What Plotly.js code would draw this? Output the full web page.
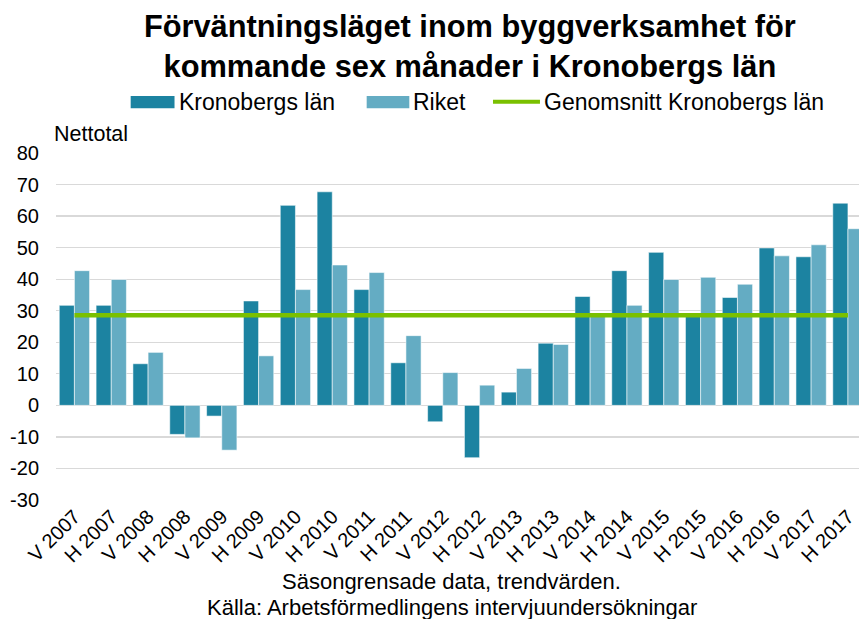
<!DOCTYPE html>
<html>
<head>
<meta charset="utf-8">
<script src="https://cdn.plot.ly/plotly-3.0.1.min.js"></script>
<style>html,body{margin:0;padding:0;background:#fff;}#chart{width:859px;height:619px;}</style>
</head>
<body>
<div id="chart"></div>
<script>
const categories = ["V 2007","H 2007","V 2008","H 2008","V 2009","H 2009","V 2010","H 2010","V 2011","H 2011","V 2012","H 2012","V 2013","H 2013","V 2014","H 2014","V 2015","H 2015","V 2016","H 2016","V 2017","H 2017"];
const kronoberg = [31.7, 31.7, 13.2, -9.2, -3.4, 33.1, 63.4, 67.7, 36.7, 13.5, -5.2, -16.6, 4.2, 19.7, 34.5, 42.7, 48.5, 28.6, 34.2, 49.9, 47.1, 64.1];
const riket = [42.7, 39.9, 16.8, -10.3, -14.2, 15.7, 36.7, 44.5, 42.1, 22.1, 10.4, 6.4, 11.7, 19.3, 28.8, 31.7, 39.9, 40.6, 38.4, 47.4, 50.9, 56.0];
const genomsnitt = 28.6;
const yTicks = [-30, -20, -10, 0, 10, 20, 30, 40, 50, 60, 70, 80];
const seriesNames = ["Kronobergs län", "Riket", "Genomsnitt Kronobergs län"];

const FONT = "Liberation Sans, Arial, sans-serif";
const C_KRON = "#1C83A1", C_RIKET = "#64ACC3", C_AVG = "#7AC000";

const data = [
  {type: "bar", name: seriesNames[0], x: categories, y: kronoberg, showlegend: false,
   marker: {color: C_KRON, line: {color: "rgba(255,255,255,0.55)", width: 1}}},
  {type: "bar", name: seriesNames[1], x: categories, y: riket, showlegend: false,
   marker: {color: C_RIKET, line: {color: "rgba(255,255,255,0.55)", width: 1}}},
  {type: "scatter", mode: "lines", name: seriesNames[2], showlegend: false,
   x: [categories[0], categories[categories.length - 1]], y: [genomsnitt, genomsnitt],
   line: {color: C_AVG, width: 4.5}}
];

// legend drawn in paper coordinates
const legY = 1.147;
const legendShapes = [
  {type: "rect", xref: "paper", yref: "paper", x0: 0.0930, x1: 0.1476, y0: 1.1288, y1: 1.1643,
   fillcolor: C_KRON, line: {width: 0}},
  {type: "rect", xref: "paper", yref: "paper", x0: 0.3869, x1: 0.4400, y0: 1.1288, y1: 1.1643,
   fillcolor: C_RIKET, line: {width: 0}},
  {type: "line", xref: "paper", yref: "paper", x0: 0.5442, x1: 0.6027, y0: 1.1478, y1: 1.1478,
   line: {color: C_AVG, width: 4}}
];
const legendTexts = [[0.1510, seriesNames[0]], [0.4425, seriesNames[1]], [0.6055, seriesNames[2]]].map(([x, t]) => ({
  text: t, xref: "paper", yref: "paper", x: x, y: legY, xanchor: "left", yanchor: "middle",
  showarrow: false, font: {family: FONT, size: 23, color: "#000"}
}));

const layout = {
  width: 859, height: 619,
  margin: {l: 56, r: 0, t: 153, b: 119},
  paper_bgcolor: "#fff", plot_bgcolor: "#fff",
  font: {family: FONT, color: "#000", size: 19},
  title: {text: "<b>Förväntningsläget inom byggverksamhet för<br>kommande sex månader i Kronobergs län</b>",
          font: {family: FONT, size: 30.8, color: "#000"},
          x: 0.547, xanchor: "center", xref: "container",
          y: 0.941, yanchor: "middle", yref: "container"},
  barmode: "group", bargap: 0.177, bargroupgap: 0,
  showlegend: false,
  xaxis: {type: "category", range: [-0.5, 21.3], tickangle: -45,
          showgrid: false, showline: false, zeroline: false, ticks: "",
          tickfont: {family: FONT, size: 20, color: "#000"}, fixedrange: true},
  yaxis: {range: [-30, 80], tickvals: yTicks, ticktext: yTicks.map(String),
          showgrid: true, gridcolor: "#D9D9D9", gridwidth: 1.3,
          zeroline: true, zerolinecolor: "#D9D9D9", zerolinewidth: 1.3,
          showline: false, ticks: "", ticklen: 0, ticklabelstandoff: 16,
          tickfont: {family: FONT, size: 20, color: "#000"}, fixedrange: true},
  shapes: legendShapes,
  annotations: [
    {text: "Nettotal", xref: "paper", yref: "paper", x: -0.0045, y: 1.054,
     xanchor: "left", yanchor: "middle", showarrow: false,
     font: {family: FONT, size: 21.5, color: "#000"}},
    {text: "Säsongrensade data, trendvärden.", xref: "paper", yref: "paper",
     x: 0.493, y: -0.236, xanchor: "center", yanchor: "middle", showarrow: false,
     font: {family: FONT, size: 22, color: "#000"}},
    {text: "Källa: Arbetsförmedlingens intervjuundersökningar", xref: "paper", yref: "paper",
     x: 0.493, y: -0.311, xanchor: "center", yanchor: "middle", showarrow: false,
     font: {family: FONT, size: 22, color: "#000"}}
  ].concat(legendTexts)
};
Plotly.newPlot("chart", data, layout, {displayModeBar: false, staticPlot: true});
</script>
</body>
</html>
